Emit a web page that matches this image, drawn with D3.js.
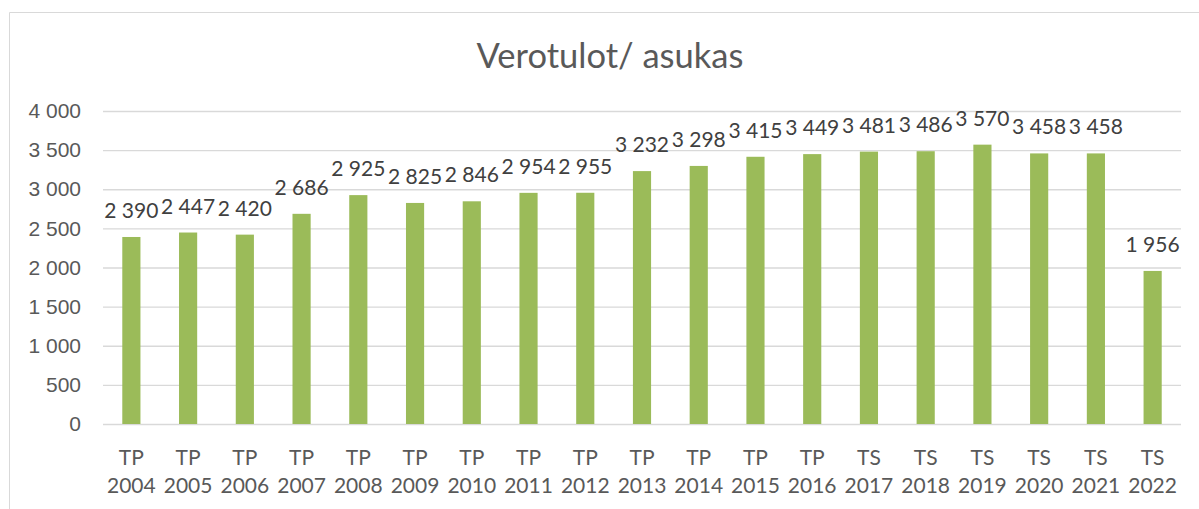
<!DOCTYPE html>
<html>
<head>
<meta charset="utf-8">
<script src="https://cdn.jsdelivr.net/npm/d3@7"></script>
<style>
  body { margin: 0; background: #fff; }
  svg { display: block; font-family: Lato, "Open Sans", sans-serif; }
</style>
</head>
<body>
<div id="chart"></div>
<script>
var categories = ["TP 2004", "TP 2005", "TP 2006", "TP 2007", "TP 2008", "TP 2009", "TP 2010",
                  "TP 2011", "TP 2012", "TP 2013", "TP 2014", "TP 2015", "TP 2016", "TS 2017",
                  "TS 2018", "TS 2019", "TS 2020", "TS 2021", "TS 2022"];
var values = [2390, 2447, 2420, 2686, 2925, 2825, 2846, 2954, 2955, 3232, 3298, 3415, 3449,
              3481, 3486, 3570, 3458, 3458, 1956];
var yTicks = [0, 500, 1000, 1500, 2000, 2500, 3000, 3500, 4000];
var chartTitle = "Verotulot/ asukas";

var width = 1199,
    height = 509;
var margin = { top: 111, right: 18, bottom: 85, left: 103 };

var svg = d3.select("#chart")
  .append("svg")
    .attr("width", width)
    .attr("height", height);

// chart area frame (extends past the window on the right and bottom)
svg.append("path")
  .attr("d", "M9.5," + height + "V12.5H" + width)
  .attr("fill", "none")
  .attr("stroke", "#d9d9d9")
  .attr("stroke-width", 1);

var fmt = function(v) { return d3.format(",")(v).replace(/,/g, "\u00a0"); };

var x = d3.scaleBand()
  .domain(categories)
  .range([margin.left, width - margin.right])
  .paddingInner(0.68)
  .paddingOuter(0.34);

var y = d3.scaleLinear()
  .domain([0, 4000])
  .range([height - margin.bottom, margin.top]);

// gridlines + y tick labels
var yAxis = d3.axisLeft(y)
  .tickValues(yTicks)
  .tickSize(-(width - margin.right - margin.left))
  .tickPadding(22)
  .tickFormat(fmt);

var gy = svg.append("g")
  .attr("transform", "translate(" + margin.left + ",0)")
  .call(yAxis);
gy.select(".domain").remove();
gy.selectAll(".tick line")
  .attr("stroke", "#d9d9d9")
  .attr("stroke-width", 1.4);
gy.selectAll(".tick text")
  .attr("fill", "#595959")
  .attr("font-size", "21px");

// bars
svg.append("g")
  .selectAll("rect")
  .data(values)
  .enter()
    .append("rect")
    .attr("x", function(d, i) { return x(categories[i]); })
    .attr("y", function(d) { return y(d); })
    .attr("width", x.bandwidth())
    .attr("height", function(d) { return y(0) - y(d); })
    .attr("fill", "#9bbb59");

// data labels
svg.append("g")
  .selectAll("text")
  .data(values)
  .enter()
    .append("text")
    .attr("x", function(d, i) { return x(categories[i]) + x.bandwidth() / 2; })
    .attr("y", function(d) { return y(d) - 19; })
    .attr("text-anchor", "middle")
    .attr("fill", "#404040")
    .attr("font-size", "21px")
    .text(function(d) { return fmt(d); });

// x labels on two lines
var xl = svg.append("g")
  .selectAll("text")
  .data(categories)
  .enter()
    .append("text")
    .attr("text-anchor", "middle")
    .attr("fill", "#595959")
    .attr("font-size", "21px");
xl.append("tspan")
  .attr("x", function(d) { return x(d) + x.bandwidth() / 2; })
  .attr("y", 465)
  .text(function(d) { return d.split(" ")[0]; });
xl.append("tspan")
  .attr("x", function(d) { return x(d) + x.bandwidth() / 2; })
  .attr("y", 493)
  .text(function(d) { return d.split(" ")[1]; });

svg.append("text")
  .attr("x", 610)
  .attr("y", 68)
  .attr("text-anchor", "middle")
  .attr("fill", "#595959")
  .attr("font-size", "34.5px")
  .text(chartTitle);
</script>
</body>
</html>
